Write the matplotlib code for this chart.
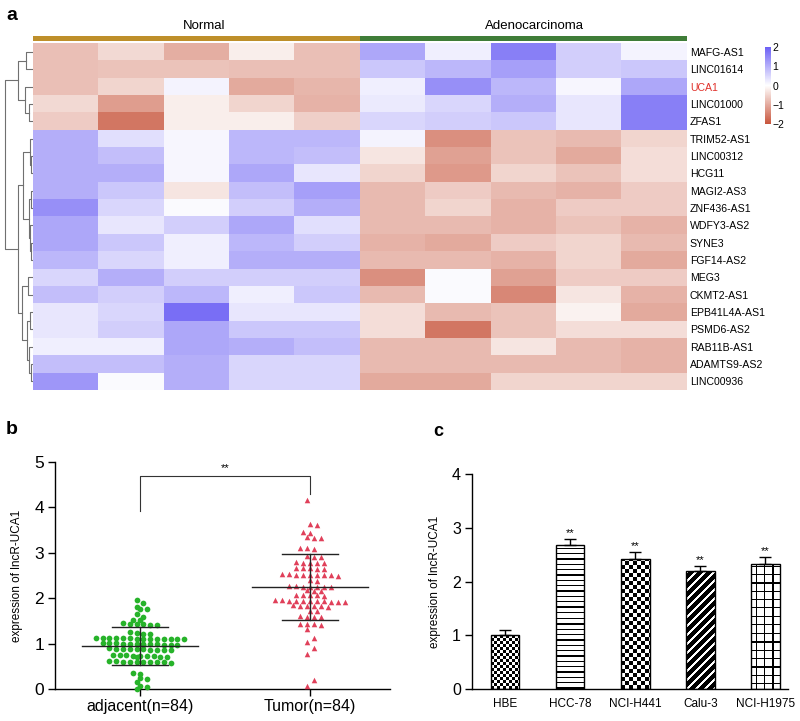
import numpy as np
import matplotlib
matplotlib.use("Agg")
import matplotlib.pyplot as plt
from matplotlib.colors import LinearSegmentedColormap, ListedColormap

plt.rcParams['font.family'] = ['Liberation Sans', 'DejaVu Sans']
plt.rcParams['axes.linewidth'] = 1.0

# ---------------- data ----------------
genes = ["MAFG-AS1", "LINC01614", "UCA1", "LINC01000", "ZFAS1", "TRIM52-AS1",
         "LINC00312", "HCG11", "MAGI2-AS3", "ZNF436-AS1", "WDFY3-AS2", "SYNE3",
         "FGF14-AS2", "MEG3", "CKMT2-AS1", "EPB41L4A-AS1", "PSMD6-AS2",
         "RAB11B-AS1", "ADAMTS9-AS2", "LINC00936"]
groups = ["Normal", "Adenocarcinoma"]

normal_vals = [
    [-0.75, -0.45, -0.95, -0.2, -0.75],
    [-0.75, -0.7, -0.7, -0.75, -0.75],
    [-0.75, -0.5, 0.15, -1.0, -0.85],
    [-0.45, -1.15, -0.2, -0.5, -0.9],
    [-0.6, -1.6, -0.2, -0.2, -0.55],
    [1.0, 0.4, 0.1, 0.9, 0.9],
    [1.0, 0.8, 0.1, 0.9, 0.8],
    [1.0, 1.0, 0.1, 1.1, 0.3],
    [1.0, 0.7, -0.3, 0.8, 1.2],
    [1.4, 0.5, 0.05, 0.6, 1.0],
    [1.1, 0.3, 0.6, 1.1, 0.4],
    [1.1, 0.7, 0.2, 0.9, 0.6],
    [0.9, 0.5, 0.2, 1.0, 1.0],
    [0.5, 1.0, 0.6, 0.6, 0.6],
    [0.8, 0.6, 0.9, 0.2, 0.7],
    [0.3, 0.5, 1.8, 0.3, 0.3],
    [0.3, 0.6, 1.1, 0.7, 0.7],
    [0.2, 0.2, 1.1, 1.0, 0.8],
    [0.8, 0.8, 1.0, 0.5, 0.5],
    [1.3, 0.05, 1.0, 0.5, 0.5],
]
adeno_vals = [
    [1.1, 0.2, 1.6, 0.6, 0.15],
    [0.7, 0.9, 1.2, 0.6, 0.7],
    [0.2, 1.4, 0.9, 0.1, 1.1],
    [0.25, 0.5, 1.0, 0.3, 1.6],
    [0.5, 0.6, 0.7, 0.3, 1.6],
    [0.15, -1.3, -0.7, -0.8, -0.5],
    [-0.3, -1.1, -0.7, -1.0, -0.4],
    [-0.5, -1.2, -0.5, -0.7, -0.4],
    [-0.8, -0.6, -0.8, -0.9, -0.6],
    [-0.8, -0.5, -0.9, -0.6, -0.6],
    [-0.8, -0.8, -0.9, -0.7, -0.9],
    [-0.9, -1.0, -0.6, -0.5, -0.8],
    [-0.8, -0.8, -0.9, -0.5, -1.0],
    [-1.3, 0.05, -1.1, -0.6, -0.6],
    [-0.8, 0.05, -1.4, -0.3, -0.9],
    [-0.4, -0.8, -0.7, -0.15, -1.0],
    [-0.4, -1.6, -0.7, -0.4, -0.4],
    [-0.8, -0.8, -0.3, -0.8, -0.9],
    [-0.8, -0.8, -0.8, -0.8, -0.9],
    [-1.0, -1.0, -0.5, -0.5, -0.5],
]

# row dendrogram (scipy-style linkage: left, right, height)
row_linkage = [
    [0, 1, 0.25], [3, 4, 0.14], [2, 21, 0.29], [20, 22, 0.54],
    [6, 7, 0.07], [5, 24, 0.12], [8, 9, 0.08], [11, 12, 0.06],
    [10, 27, 0.10], [26, 28, 0.16], [25, 29, 0.36],
    [13, 14, 0.18], [15, 16, 0.12], [18, 19, 0.07], [17, 33, 0.13],
    [32, 34, 0.22], [31, 35, 0.39], [30, 36, 0.54], [23, 37, 1.0],
]

swarm_labels = ["adjacent(n=84)", "Tumor(n=84)"]
adjacent_vals = [1.97, 1.89, 1.82, 1.76, 1.76, 1.66, 1.60, 1.53, 1.53,
                 1.45, 1.44, 1.43, 1.43, 1.42, 1.41,
                 1.25, 1.23, 1.22, 1.21,
                 1.13, 1.13, 1.13, 1.12, 1.12, 1.12, 1.11, 1.11, 1.11, 1.10, 1.10, 1.10, 1.10, 1.10,
                 1.02, 1.01, 1.01, 1.00, 1.00, 1.00, 0.99, 0.99, 0.99, 0.98, 0.98, 0.98, 0.97,
                 0.90, 0.89, 0.89, 0.88, 0.88, 0.88, 0.87, 0.87, 0.86, 0.86,
                 0.76, 0.75, 0.75, 0.74, 0.74, 0.73, 0.73, 0.72, 0.72, 0.71,
                 0.62, 0.62, 0.61, 0.61, 0.61, 0.60, 0.60, 0.59, 0.59, 0.58,
                 0.35, 0.33, 0.24, 0.22, 0.15, 0.08, 0.04, 0.01]
tumor_vals = [4.17, 3.64, 3.62, 3.45, 3.44, 3.34, 3.33, 3.32,
              3.11, 3.10, 3.09, 2.93, 2.92, 2.91,
              2.79, 2.78, 2.78, 2.77, 2.77, 2.67, 2.66, 2.66, 2.65, 2.65,
              2.53, 2.53, 2.52, 2.52, 2.52, 2.51, 2.51, 2.51, 2.50,
              2.40, 2.39,
              2.27, 2.27, 2.26, 2.26, 2.25, 2.25, 2.24,
              2.18, 2.17, 2.17, 2.08, 2.08, 2.07, 2.07, 2.06,
              1.96, 1.96, 1.95, 1.95, 1.95, 1.94, 1.94, 1.94, 1.93, 1.93, 1.93,
              1.85, 1.84, 1.84, 1.83, 1.83, 1.82, 1.73, 1.72,
              1.61, 1.60, 1.60, 1.59, 1.44, 1.43, 1.43, 1.42, 1.33,
              1.12, 1.05, 0.90, 0.77, 0.20, 0.08]
swarm_mean = [0.95, 2.25]
swarm_sd = [0.42, 0.73]

cell_lines = ["HBE", "HCC-78", "NCI-H441", "Calu-3", "NCI-H1975"]
cell_means = [1.00, 2.68, 2.43, 2.19, 2.33]
cell_err = [0.10, 0.12, 0.12, 0.11, 0.13]
cell_sig = ["", "**", "**", "**", "**"]

# ---------------- figure ----------------
W, H = 800, 721
fig = plt.figure(figsize=(W / 100, H / 100), dpi=100)


def ax_px(x0, y0, x1, y1):
    return fig.add_axes([x0 / W, 1 - y1 / H, (x1 - x0) / W, (y1 - y0) / H])


# ----- panel a: heatmap -----
data = np.hstack([np.array(normal_vals), np.array(adeno_vals)])
cmap = LinearSegmentedColormap.from_list("hm", ["#C8553C", "#FFFFFF", "#6C60F5"])
hm = ax_px(33, 43.3, 687, 390)
im = hm.imshow(data, cmap=cmap, vmin=-2, vmax=2, aspect='auto', interpolation='nearest')
hm.set_xticks([])
hm.yaxis.tick_right()
hm.set_yticks(range(len(genes)))
hm.set_yticklabels(genes, fontsize=7.6)
hm.tick_params(axis='y', length=0, pad=2)
for lab in hm.get_yticklabels():
    if lab.get_text() == "UCA1":
        lab.set_color("#E0302A")
for s in hm.spines.values():
    s.set_visible(False)

# column annotation bar
ann = ax_px(33, 35.7, 687, 41.3)
grp_idx = np.array([[0] * len(normal_vals[0]) + [1] * len(adeno_vals[0])])
ann.imshow(grp_idx, cmap=ListedColormap(["#BE8F2A", "#3F7D38"]), aspect='auto', interpolation='nearest')
ann.axis('off')
fig.text(204 / W, 1 - 26 / H, groups[0], fontsize=9.5, ha='center', va='center')
fig.text(534 / W, 1 - 26 / H, groups[1], fontsize=9.5, ha='center', va='center')

# colorbar
cax = ax_px(765, 47, 770.5, 124)
cb = fig.colorbar(im, cax=cax, ticks=[-2, -1, 0, 1, 2])
cb.outline.set_visible(False)
cax.tick_params(length=0, labelsize=7.5, pad=1.5)

# dendrogram
dax = ax_px(3, 43.3, 33, 390)
dax.set_ylim(len(genes) - 0.5, -0.5)
dax.set_xlim(1.07, 0)
dax.axis('off')
pos = {i: (0.0, float(i)) for i in range(len(genes))}
for k, (a, b, h) in enumerate(row_linkage):
    ha_, ya = pos[a]
    hb_, yb = pos[b]
    dax.plot([ha_, h, h, hb_], [ya, ya, yb, yb], color='#707070', lw=0.8)
    pos[len(genes) + k] = (h, (ya + yb) / 2)

fig.text(12 / W, 1 - 15 / H, "a", fontsize=14, fontweight='bold', ha='center', va='center')

# ----- panel b: scatter -----
bx = ax_px(55, 462, 390, 689.3)


def swarm(vals, center, dx, tol):
    v = sorted(vals, reverse=True)
    rows = []
    for val in v:
        if rows and rows[-1][0] - val <= tol:
            rows[-1].append(val)
        else:
            rows.append([val])
    xs, ys = [], []
    for ri, r in enumerate(rows):
        n = len(r)
        offs = (np.arange(n) - (n - 1) / 2) * dx
        if n <= 3:
            offs = offs + (0.5 if ri % 2 else -0.5) * dx
        xs.extend(center + offs)
        ys.extend(r)
    return np.array(xs), np.array(ys)


gx, gy = swarm(adjacent_vals, 0, 0.040, 0.045)
rx, ry = swarm(tumor_vals, 1, 0.041, 0.045)
bx.scatter(gx, gy, s=17, color='#27B32A', marker='o', linewidths=0, zorder=3, clip_on=False)
bx.scatter(rx, ry, s=16, color='#E0405A', marker='^', linewidths=0, zorder=3, clip_on=False)
for i, (m, sd) in enumerate(zip(swarm_mean, swarm_sd)):
    bx.plot([i - 0.34, i + 0.34], [m, m], color='#222222', lw=1.0, zorder=4)
    bx.plot([i - 0.165, i + 0.165], [m + sd, m + sd], color='#222222', lw=1.0, zorder=4)
    bx.plot([i - 0.165, i + 0.165], [m - sd, m - sd], color='#222222', lw=1.0, zorder=4)
    bx.plot([i, i], [m - sd, m + sd], color='#222222', lw=1.0, zorder=4)
bx.plot([0, 0, 1, 1], [3.92, 4.69, 4.69, 4.29], color='#333333', lw=0.8)
bx.text(0.5, 4.76, "**", ha='center', va='bottom', fontsize=8)
bx.set_xlim(-0.5, 1.47)
bx.set_ylim(0, 5)
bx.set_xticks([0, 1])
bx.set_xticklabels(swarm_labels, fontsize=11.5)
bx.set_yticks(range(6))
bx.tick_params(axis='y', labelsize=12.5, length=5, width=1, pad=3)
bx.tick_params(axis='x', length=5, width=1, pad=2)
bx.spines['top'].set_visible(False)
bx.spines['right'].set_visible(False)
bx.set_ylabel("expression of lncR-UCA1", fontsize=8.5, labelpad=8)
fig.text(12 / W, 1 - 430 / H, "b", fontsize=14, fontweight='bold', ha='center', va='center')

# ----- panel c: bars -----
cx = ax_px(472, 474, 788, 689.3)
cx.set_xlim(-0.51, 4.35)
cx.set_ylim(0, 4)
xpos = np.arange(len(cell_lines))
bw = 0.44
bars = cx.bar(xpos, cell_means, width=bw, color='white', edgecolor='none', zorder=2)


def pattern_fill(ax, bar, func):
    x0, w, h = bar.get_x(), bar.get_width(), bar.get_height()
    p0 = ax.transData.transform((x0, 0))
    p1 = ax.transData.transform((x0 + w, h))
    wpx = max(1, int(round(p1[0] - p0[0])))
    hpx = max(1, int(round(p1[1] - p0[1])))
    jj, ii = np.meshgrid(np.arange(wpx), np.arange(hpx))
    arr = func(ii, jj).astype(float)
    img = ax.imshow(arr, cmap='gray', vmin=0, vmax=1, extent=(x0, x0 + w, 0, h), origin='lower',
                    interpolation='nearest', aspect='auto', zorder=2.5)
    img.set_clip_path(bar)


patterns = [
    lambda i, j: ((i // 3 + j // 3) % 2),                       # fine checker
    lambda i, j: ((i % 5.33) >= 1.3),                           # horizontal lines
    lambda i, j: ((i // 4 + j // 4) % 2),                       # coarse checker
    lambda i, j: (((j - i) % 9) < 3),                           # white diagonal stripes on black
    lambda i, j: ~((((i + 4) % 8.3) < 1.2) | (((j + 4) % 8.3) < 1.2)),  # grid
]
for bar, pat in zip(bars, patterns):
    pattern_fill(cx, bar, pat)
cx.bar(xpos, cell_means, width=bw, fill=False, edgecolor='black', linewidth=1.0, zorder=3)
cx.errorbar(xpos, cell_means, yerr=[np.zeros(len(cell_err)), cell_err], fmt='none',
            ecolor='black', elinewidth=1.0, capsize=4.5, capthick=1.0, zorder=4)
for x, m, e, s in zip(xpos, cell_means, cell_err, cell_sig):
    if s:
        cx.text(x, m + e + 0.01, s, ha='center', va='bottom', fontsize=8)
cx.set_xlim(-0.51, 4.35)
cx.set_ylim(0, 4)
cx.set_xticks(xpos)
cx.set_xticklabels(cell_lines, fontsize=8.5)
cx.set_yticks(range(5))
cx.tick_params(axis='y', labelsize=11.5, length=5, width=1, pad=3)
cx.tick_params(axis='x', length=0, pad=6)
cx.spines['top'].set_visible(False)
cx.spines['right'].set_visible(False)
cx.set_ylabel("expression of lncR-UCA1", fontsize=8.5, labelpad=8)
fig.text(438 / W, 1 - 432 / H, "c", fontsize=13, fontweight='bold', ha='center', va='center')

fig.savefig("out.png", dpi=100)
